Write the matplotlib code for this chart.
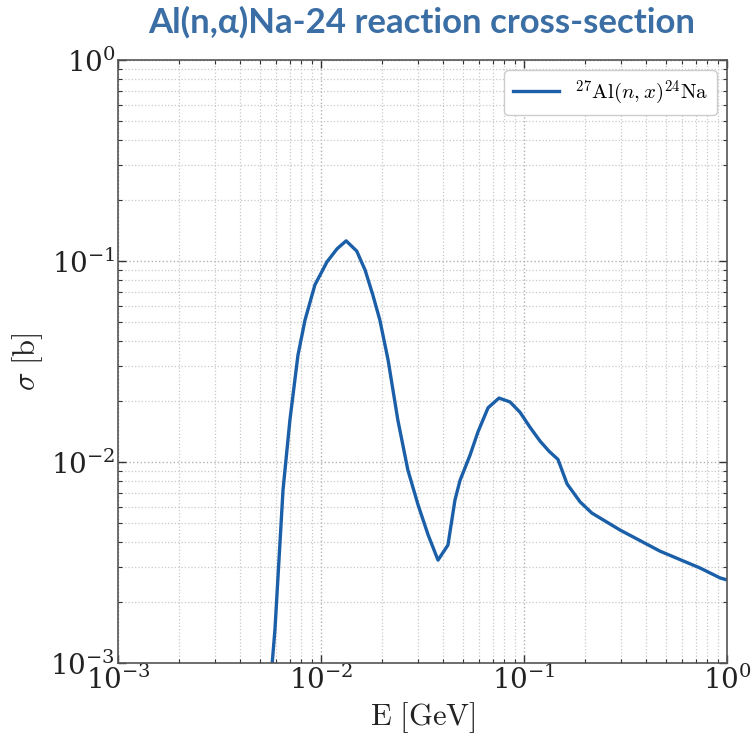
import matplotlib
matplotlib.use("Agg")
import matplotlib.pyplot as plt
from matplotlib.ticker import LogLocator, NullFormatter

energy_gev = [0.0056, 0.00574, 0.00593, 0.0065, 0.00703, 0.0077, 0.00834, 0.00933, 0.0107,
              0.012, 0.0133, 0.015, 0.0165, 0.018, 0.0195, 0.0214, 0.0239, 0.0268,
              0.0301, 0.0337, 0.0377, 0.0422, 0.0457, 0.0484, 0.0542, 0.0593, 0.0665,
              0.0753, 0.0853, 0.0955, 0.107, 0.12, 0.133, 0.147, 0.163, 0.189, 0.216,
              0.297, 0.468, 0.736, 0.925, 1.0]
sigma_b = [0.0005, 0.00098, 0.00146, 0.00726, 0.0162, 0.034, 0.0508, 0.076, 0.099,
           0.115, 0.126, 0.112, 0.09, 0.0678, 0.0508, 0.0322, 0.0162, 0.0091,
           0.0061, 0.00434, 0.00325, 0.00386, 0.00647, 0.0081, 0.0108, 0.0141, 0.0186,
           0.0208, 0.0199, 0.0177, 0.0149, 0.0127, 0.0113, 0.0103, 0.00778, 0.00633, 0.00557,
           0.00459, 0.0036, 0.00297, 0.00265, 0.00259]

series_label = r'$^{27}\mathrm{Al}(n,x)^{24}\mathrm{Na}$'
title_text = "Al(n,\u03b1)Na-24 reaction cross-section"

plt.rcParams['mathtext.fontset'] = 'cm'
plt.rcParams['font.family'] = ['DejaVu Serif']

fig = plt.figure(figsize=(7.51, 7.38), dpi=100)
ax = fig.add_axes([118/751, 75/738, 609/751, 603/738])

ax.plot(energy_gev, sigma_b, color='#1a5fa8', lw=2.4, label=series_label)
ax.set_xscale('log')
ax.set_yscale('log')
ax.set_xlim(1e-3, 1)
ax.set_ylim(1e-3, 1)

for axis in (ax.xaxis, ax.yaxis):
    axis.set_major_locator(LogLocator(base=10, numticks=10))
    axis.set_minor_locator(LogLocator(base=10, subs=range(2, 10), numticks=20))
    axis.set_minor_formatter(NullFormatter())

ax.grid(True, which='major', ls=':', color='#b0b0b0', lw=1.0)
ax.grid(True, which='minor', ls=':', color='#c8c8c8', lw=0.9)
ax.tick_params(which='both', direction='in', top=True, right=True, colors='#333333')
ax.tick_params(which='major', length=6, width=1.0, labelsize=20, pad=2, labelcolor='#222222')
ax.tick_params(which='minor', length=3, width=0.8)
for s in ax.spines.values():
    s.set_color('#555555')
    s.set_linewidth(1.2)

ax.set_xlabel(r'$\mathrm{E\ [GeV]}$', fontsize=22, color='#222222', labelpad=4)
ax.set_ylabel(r'$\sigma\ [\mathrm{b}]$', fontsize=22, color='#222222', labelpad=4)

leg = ax.legend(loc='upper right', fontsize=15, frameon=True, fancybox=True,
                edgecolor='#cccccc', framealpha=1.0, handlelength=2.2)

fig.text(0.562, 0.97, title_text, ha='center', va='center', fontsize=25,
         fontweight='bold', color='#3a6ea5', family=['Lato', 'DejaVu Sans'])

fig.savefig('out.png', dpi=100)
